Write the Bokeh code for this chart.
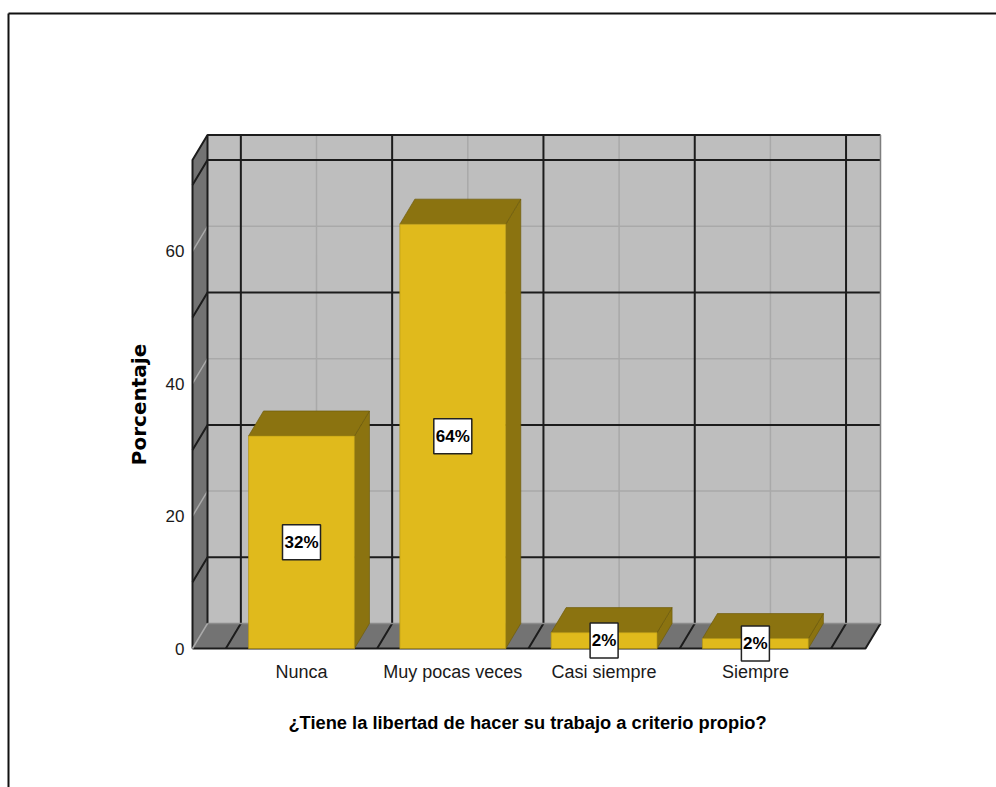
from bokeh.plotting import figure
from bokeh.models import FixedTicker, Range1d
from bokeh.embed import file_html
from bokeh.resources import INLINE

categories = ["Nunca", "Muy pocas veces", "Casi siempre", "Siempre"]
values = [32.1, 64.1, 2.4, 1.5]
labels = ["32%", "64%", "2%", "2%"]
y_ticks = [0, 20, 40, 60]
dark_levels = [10, 30, 50, 70]
light_levels = [20, 40, 60]
y_top = 73.8

W, H = 996, 787
PX, PY = 151.3, 6.62          # pixels per data unit
X0, Y0 = 301, 648             # figure pixels of (x=1, y=0)
DX, DY = 15 / PX, 25 / PY     # 3D depth in data units
BAR = 0.70
L = 1 - 109 / PX
R = 1 + 564 / PX

def fx(px): return 1 + (px - X0) / PX
def fy(py): return (Y0 - py) / PY

p = figure(width=W, height=H, output_backend="svg", toolbar_location=None,
           x_range=Range1d(fx(0), fx(W)), y_range=Range1d(fy(H), fy(0)),
           min_border=0, min_border_left=0, min_border_right=0, min_border_top=0, min_border_bottom=0,
           outline_line_color=None, background_fill_color="white", border_fill_color="white")
p.grid.visible = False

DARK, LIGHT = "#1c1c1c", "#a9a9a9"
WALL, SIDE = "#bebebe", "#737373"
GOLD, GOLD_D = "#e0ba1c", "#8b7310"

# outer frame
p.line([fx(8), fx(8)], [fy(H), fy(13)], line_color="#111111", line_width=2)
p.line([fx(8), fx(W)], [fy(13), fy(13)], line_color="#111111", line_width=2)

# walls
p.patch([L + DX, R + DX, R + DX, L + DX], [DY, DY, y_top + DY, y_top + DY], fill_color=WALL, line_color=None)
p.patch([L, L + DX, L + DX, L], [0, DY, y_top + DY, y_top], fill_color=SIDE, line_color=None)
p.patch([L, R, R + DX, L + DX], [0, 0, DY, DY], fill_color=SIDE, line_color=None)

# gridlines on back wall and left wall
for lv in light_levels:
    p.line([L, L + DX, R + DX], [lv, lv + DY, lv + DY], line_color=LIGHT, line_width=1.5)
for c in range(1, 5):
    x = c + DX
    p.line([x - DX, x, x], [0, DY, y_top + DY], line_color=LIGHT, line_width=1.5)
for lv in dark_levels:
    p.line([L, L + DX, R + DX], [lv, lv + DY, lv + DY], line_color=DARK, line_width=2)
for c in range(0, 5):
    x = c + 0.5 + DX
    p.line([x - DX, x, x], [0, DY, y_top + DY], line_color=DARK, line_width=2)

# wall edges
p.line([L, L, L + DX, R + DX], [0, y_top, y_top + DY, y_top + DY], line_color=DARK, line_width=2)
p.line([L + DX, L + DX], [DY, y_top + DY], line_color=DARK, line_width=2)
p.line([L, R, R + DX], [0, 0, DY], line_color=DARK, line_width=2)
p.line([L + DX, R + DX], [DY, DY], line_color="#8c8c8c", line_width=1.5)
p.line([R + DX, R + DX], [DY, y_top + DY], line_color="#7d7d7d", line_width=1.5)
p.line([L, L + DX], [0, DY], line_color=LIGHT, line_width=1.5)

# bars
xs = [i + 1 for i in range(len(values))]
hw = BAR / 2
for x, v in zip(xs, values):
    p.patch([x + hw, x + hw + DX, x + hw + DX, x + hw], [0, DY, v + DY, v],
            fill_color=GOLD_D, line_color="#6f5c0c", line_width=0.7)
    p.patch([x - hw, x + hw, x + hw + DX, x - hw + DX], [v, v, v + DY, v + DY],
            fill_color=GOLD_D, line_color="#6f5c0c", line_width=0.7)
p.vbar(x=xs, top=values, bottom=0, width=BAR, fill_color=GOLD, line_color="#b59614", line_width=0.7)

# value labels
mids = [v / 2 for v in values]
p.rect(x=xs, y=mids, width=[10 * len(t) + 8 for t in labels], height=35,
       width_units="screen", height_units="screen",
       fill_color="white", line_color="#222222", line_width=1.5)
p.text(x=xs, y=mids, text=labels, text_align="center", text_baseline="middle",
       text_font={"value": "Liberation Sans"}, text_font_style="bold", text_font_size="17px", text_color="#000000")

# axes inside the frame
ya = p.yaxis[0]
ya.fixed_location = L
ya.bounds = (0, fy(160))
ya.ticker = FixedTicker(ticks=y_ticks)
ya.axis_line_color = None
ya.major_tick_line_color = None
ya.minor_tick_line_color = None
ya.major_label_text_font = "Liberation Sans"
ya.major_label_text_font_size = "17px"
ya.major_label_text_color = "#1a1a1a"
ya.major_label_standoff = 2
ya.axis_label = "Porcentaje"
ya.axis_label_text_font = "DejaVu Sans"
ya.axis_label_text_font_style = "bold"
ya.axis_label_text_font_size = "20px"
ya.axis_label_text_color = "#000000"
ya.axis_label_standoff = 12

xa = p.xaxis[0]
xa.fixed_location = 0
xa.bounds = (fx(192), fx(862))
xa.ticker = FixedTicker(ticks=xs)
xa.major_label_overrides = {x: c for x, c in zip(xs, categories)}
xa.axis_line_color = None
xa.major_tick_line_color = None
xa.minor_tick_line_color = None
xa.major_label_text_font = "Liberation Sans"
xa.major_label_text_font_size = "18px"
xa.major_label_text_color = "#1a1a1a"
xa.major_label_standoff = 7
xa.axis_label = "¿Tiene la libertad de hacer su trabajo a criterio propio?"
xa.axis_label_text_font = "Liberation Sans"
xa.axis_label_text_font_style = "bold"
xa.axis_label_text_font_size = "18.3px"
xa.axis_label_text_color = "#000000"
xa.axis_label_standoff = 27

open("out.html", "w").write(file_html(p, INLINE))
